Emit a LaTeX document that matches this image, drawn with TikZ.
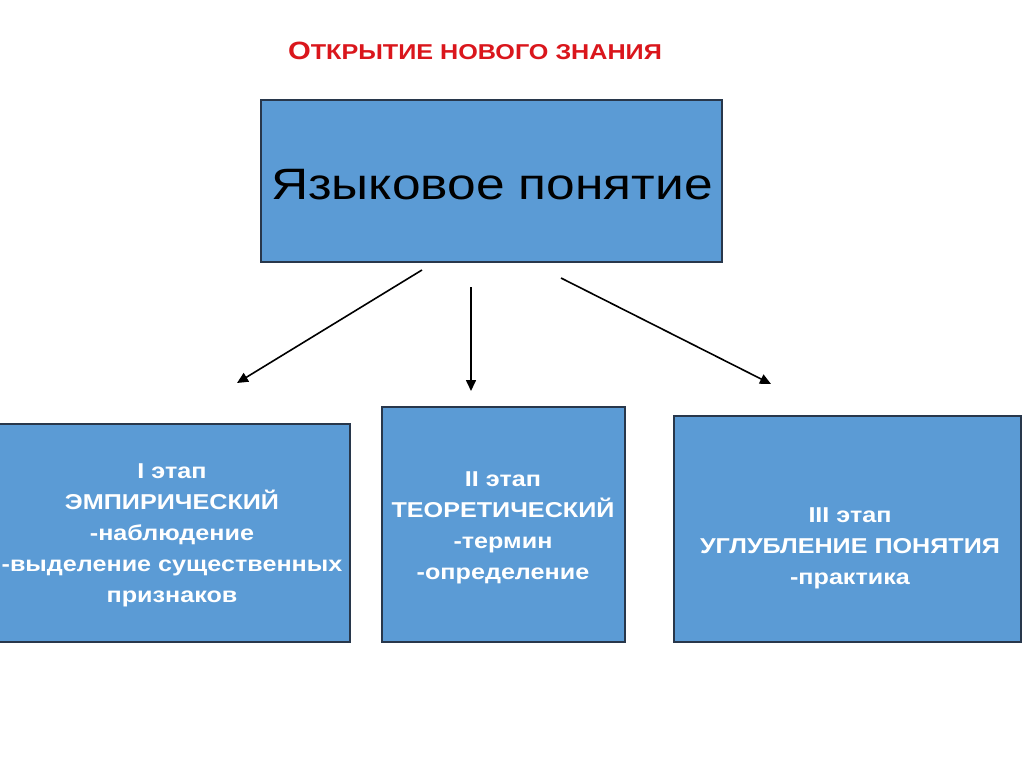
\documentclass[tikz,border=0pt]{standalone}
\usepackage{fontspec}
\setmainfont{Liberation Sans}[FakeStretch=1.17]
\usetikzlibrary{arrows.meta}
\definecolor{boxblue}{RGB}{91,155,213}
\definecolor{boxline}{RGB}{40,55,75}
\definecolor{titlered}{RGB}{218,22,28}
\tikzset{
  stagebox/.style={draw=boxline, line width=1.3pt, fill=boxblue, inner sep=0pt},
  stagetext/.style={text=white, font=\bfseries\fontsize{21.5}{31}\selectfont, align=center, inner sep=0pt},
  link/.style={line width=1.6pt, -{Triangle[length=11pt,width=10pt]}}
}
\begin{document}
\begin{tikzpicture}[x=1pt,y=-1pt]
\useasboundingbox (0,0) rectangle (1024,767);
\fill[white] (0,0) rectangle (1024,767);
\node[text=titlered, font=\bfseries, inner sep=0pt] (title) at (475,51)
  {{\fontsize{25}{30}\selectfont О}{\fontsize{21.5}{24}\selectfont ТКРЫТИЕ НОВОГО ЗНАНИЯ}};
\node[stagebox, minimum width=461pt, minimum height=162pt] (top) at (491.5,181) {};
\node[font=\fontsize{44}{50}\selectfont, inner sep=0pt] (toptext) at (492,185) {Языковое понятие};
\node[stagebox, minimum width=360pt, minimum height=218pt] (b1) at (170,533) {};
\node[stagebox, minimum width=243pt, minimum height=235pt] (b2) at (503.5,524.5) {};
\node[stagebox, minimum width=347pt, minimum height=226pt] (b3) at (847.5,529) {};
\node[stagetext] (t1) at (172,535) {I этап\\ЭМПИРИЧЕСКИЙ\\-наблюдение\\-выделение существенных\\признаков};
\node[stagetext] (t2) at (503,528) {II этап\\ТЕОРЕТИЧЕСКИЙ\\-термин\\-определение};
\node[stagetext] (t3) at (850,548) {III этап\\УГЛУБЛЕНИЕ ПОНЯТИЯ\\-практика};
\coordinate (s1) at (422,270);
\coordinate (e1) at (237,383);
\coordinate (s2) at (471,287);
\coordinate (e2) at (471,391);
\coordinate (s3) at (561,278);
\coordinate (e3) at (771,384);
\draw[link] (s1) -- (e1);
\draw[link] (s2) -- (e2);
\draw[link] (s3) -- (e3);
\end{tikzpicture}
\end{document}
